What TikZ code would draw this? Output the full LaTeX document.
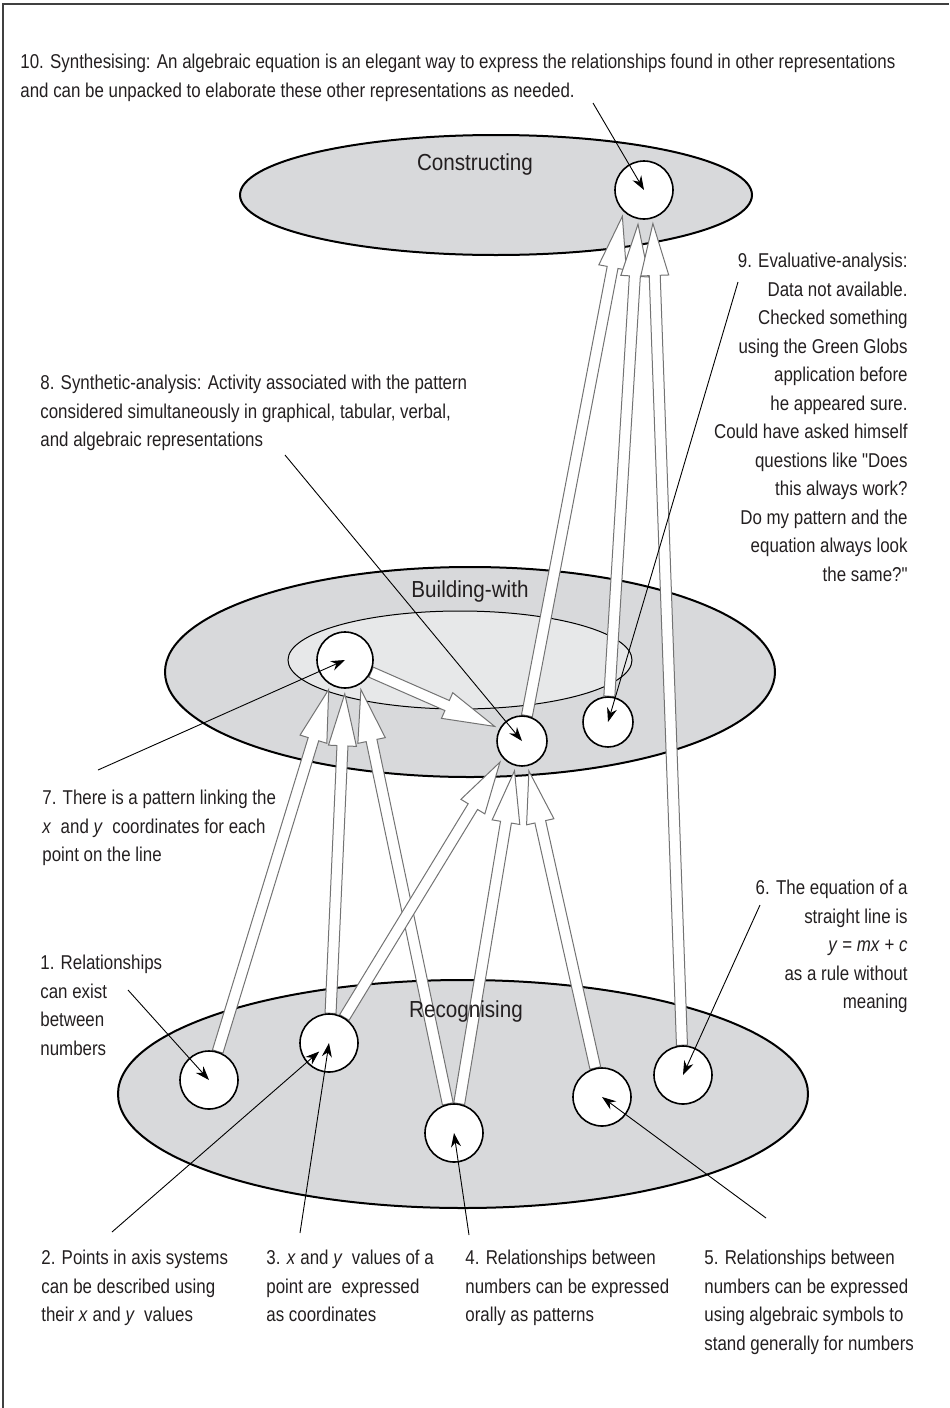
\documentclass[tikz,border=0pt]{standalone}
\usepackage{fontspec}
\setmainfont{Liberation Sans}[FakeStretch=0.845,Ligatures=TeXOff]
\newfontfamily\titlefont{Liberation Sans}[FakeStretch=0.89]
\usepackage{tikz}
\usetikzlibrary{calc,arrows.meta}
\pgfdeclarelayer{bg}
\pgfdeclarelayer{mid}
\pgfsetlayers{bg,mid,main}
\definecolor{planegray}{HTML}{D8D9DB}
\definecolor{coregray}{HTML}{E7E8E9}
\definecolor{inkgray}{HTML}{231F20}
\tikzset{
  plane/.style={draw=black,line width=1pt,fill=planegray},
  core/.style={draw=black,line width=0.5pt,fill=coregray},
  bubble/.style={circle,draw=black,line width=0.8pt,fill=white,inner sep=0pt},
  hollow/.style={draw=black!55,line width=0.5pt,fill=white},
  lead/.style={line width=0.45pt,-{Stealth[length=7pt,width=5pt]}},
  lbl/.style={inner sep=0pt,text=inkgray,font=\fontsize{10pt}{14.25pt}\selectfont},
  planetitle/.style={inner sep=0pt,text=inkgray,font=\titlefont\fontsize{11.6pt}{14pt}\selectfont}
}
\newcommand\hollowarrow[2]{%
  \path[hollow] let \p1=(#1), \p2=(#2),
      \n1={atan2(\y2-\y1,\x2-\x1)},
      \n2={veclen(\x2-\x1,\y2-\y1)-2.5pt} in
    ($(\p1)+(\n1+90:2.75pt)$)
    -- ($(\p1)+(\n1:\n2-26pt)+(\n1+90:2.75pt)$)
    -- ($(\p1)+(\n1:\n2-26pt)+(\n1+90:7pt)$)
    -- ($(\p1)+(\n1:\n2)$)
    -- ($(\p1)+(\n1:\n2-26pt)+(\n1-90:7pt)$)
    -- ($(\p1)+(\n1:\n2-26pt)+(\n1-90:2.75pt)$)
    -- ($(\p1)+(\n1-90:2.75pt)$) -- cycle;}
\begin{document}
\begin{tikzpicture}[x=0.5pt,y=-0.5pt]
                \useasboundingbox (0,0) rectangle (949,1408);
                \draw[line width=1pt,black!75] (3,1408) -- (3,4) -- (949,4);
                \begin{pgfonlayer}{bg}
                \draw[plane] (496,195) ellipse [x radius=128pt,y radius=30pt];
                \draw[plane] (470,672) ellipse [x radius=152.5pt,y radius=52.5pt];
                \draw[core] (460,660) ellipse [x radius=86pt,y radius=24.5pt];
                \draw[plane] (463,1094) ellipse [x radius=172.5pt,y radius=57pt];
                \end{pgfonlayer}
                \node[planetitle] (tc) at (475,164) {Constructing};
                \node[planetitle] (tb) at (470,591) {Building-with};
                \node[planetitle] (tr) at (466,1011) {Recognising};
                \node[bubble,minimum size=29pt] (c10) at (644,190) {};
                \node[bubble,minimum size=28pt] (b7) at (345,660) {};
                \node[bubble,minimum size=25pt] (b8) at (522,741) {};
                \node[bubble,minimum size=25pt] (b9) at (608,722) {};
                \node[bubble,minimum size=29pt] (r1) at (209,1080) {};
                \node[bubble,minimum size=29pt] (r23) at (329,1043) {};
                \node[bubble,minimum size=29pt] (r4) at (454,1133) {};
                \node[bubble,minimum size=29pt] (r5) at (602,1097) {};
                \node[bubble,minimum size=29pt] (r6) at (683,1075) {};
                \begin{pgfonlayer}{mid}
                \hollowarrow{r1.73}{b7.-121}
                \hollowarrow{r23.87}{b7.-90}
                \hollowarrow{r4.102}{b7.-59}
                \hollowarrow{b7.-25}{b8.151}
                \hollowarrow{r23.59}{b8.-139}
                \hollowarrow{r4.80}{b8.-105}
                \hollowarrow{r5.103}{b8.-77}
                \hollowarrow{b8.79}{c10.-134}
                \hollowarrow{b9.87}{c10.-101}
                \hollowarrow{r6.92}{c10.-73}
                \end{pgfonlayer}
                \node[lbl,anchor=north west,align=left] (l10) at (20,54)
                  {10. Synthesising: An algebraic equation is an elegant way to express the relationships found in other representations\\
                   and can be unpacked to elaborate these other representations as needed.};
                \node[lbl,anchor=north east,align=right] (l9) at (908,253)
                  {9. Evaluative-analysis:\\ Data not available.\\ Checked something\\ using the Green Globs\\
                   application before\\ he appeared sure.\\ Could have asked himself\\ questions like "Does\\
                   this always work?\\ Do my pattern and the\\ equation always look\\ the same?"};
                \node[lbl,anchor=north west,align=left] (l8) at (40,375)
                  {8. Synthetic-analysis: Activity associated with the pattern\\
                   considered simultaneously in graphical, tabular, verbal,\\ and algebraic representations};
                \node[lbl,anchor=north west,align=left] (l7) at (42,790)
                  {7. There is a pattern linking the\\ \textit{x}\ \ and \textit{y}\ \ coordinates for each\\ point on the line};
                \node[lbl,anchor=north west,align=left] (l1) at (40,955)
                  {1. Relationships\\ can exist\\ between\\ numbers};
                \node[lbl,anchor=north east,align=right] (l6) at (908,880)
                  {6. The equation of a\\ straight line is\\ \textit{y} = \textit{mx} + \textit{c}\\ as a rule without\\ meaning};
                \node[lbl,anchor=north west,align=left] (l2) at (41,1250)
                  {2. Points in axis systems\\ can be described using\\ their \textit{x} and \textit{y}\ \ values};
                \node[lbl,anchor=north west,align=left] (l3) at (266,1250)
                  {3. \textit{x} and \textit{y}\ \ values of a\\ point are\ \ expressed\\ as coordinates};
                \node[lbl,anchor=north west,align=left] (l4) at (465,1250)
                  {4. Relationships between\\ numbers can be expressed\\ orally as patterns};
                \node[lbl,anchor=north west,align=left] (l5) at (704,1250)
                  {5. Relationships between\\ numbers can be expressed\\ using algebraic symbols to\\ stand generally for numbers};
                \coordinate (p10) at (593,103);
                \coordinate (p9) at (738,282);
                \coordinate (p8) at (285,455);
                \coordinate (p7) at (98,770);
                \coordinate (p1) at (128,990);
                \coordinate (p2) at (112,1232);
                \coordinate (p3) at (300,1233);
                \coordinate (p4) at (469,1235);
                \coordinate (p5) at (766,1218);
                \coordinate (p6) at (760,905);
                \draw[lead] (p10) -- (c10.center);
                \draw[lead] (p9) -- (b9.center);
                \draw[lead] (p8) -- (b8.center);
                \draw[lead] (p7) -- (b7.center);
                \draw[lead] (p1) -- (r1.center);
                \draw[lead,shorten >=6.5pt] (p2) -- (r23.center);
                \draw[lead] (p3) -- (r23.center);
                \draw[lead] (p4) -- (r4.center);
                \draw[lead] (p5) -- (r5.center);
                \draw[lead] (p6) -- (r6.center);
            \end{tikzpicture}
\end{document}
